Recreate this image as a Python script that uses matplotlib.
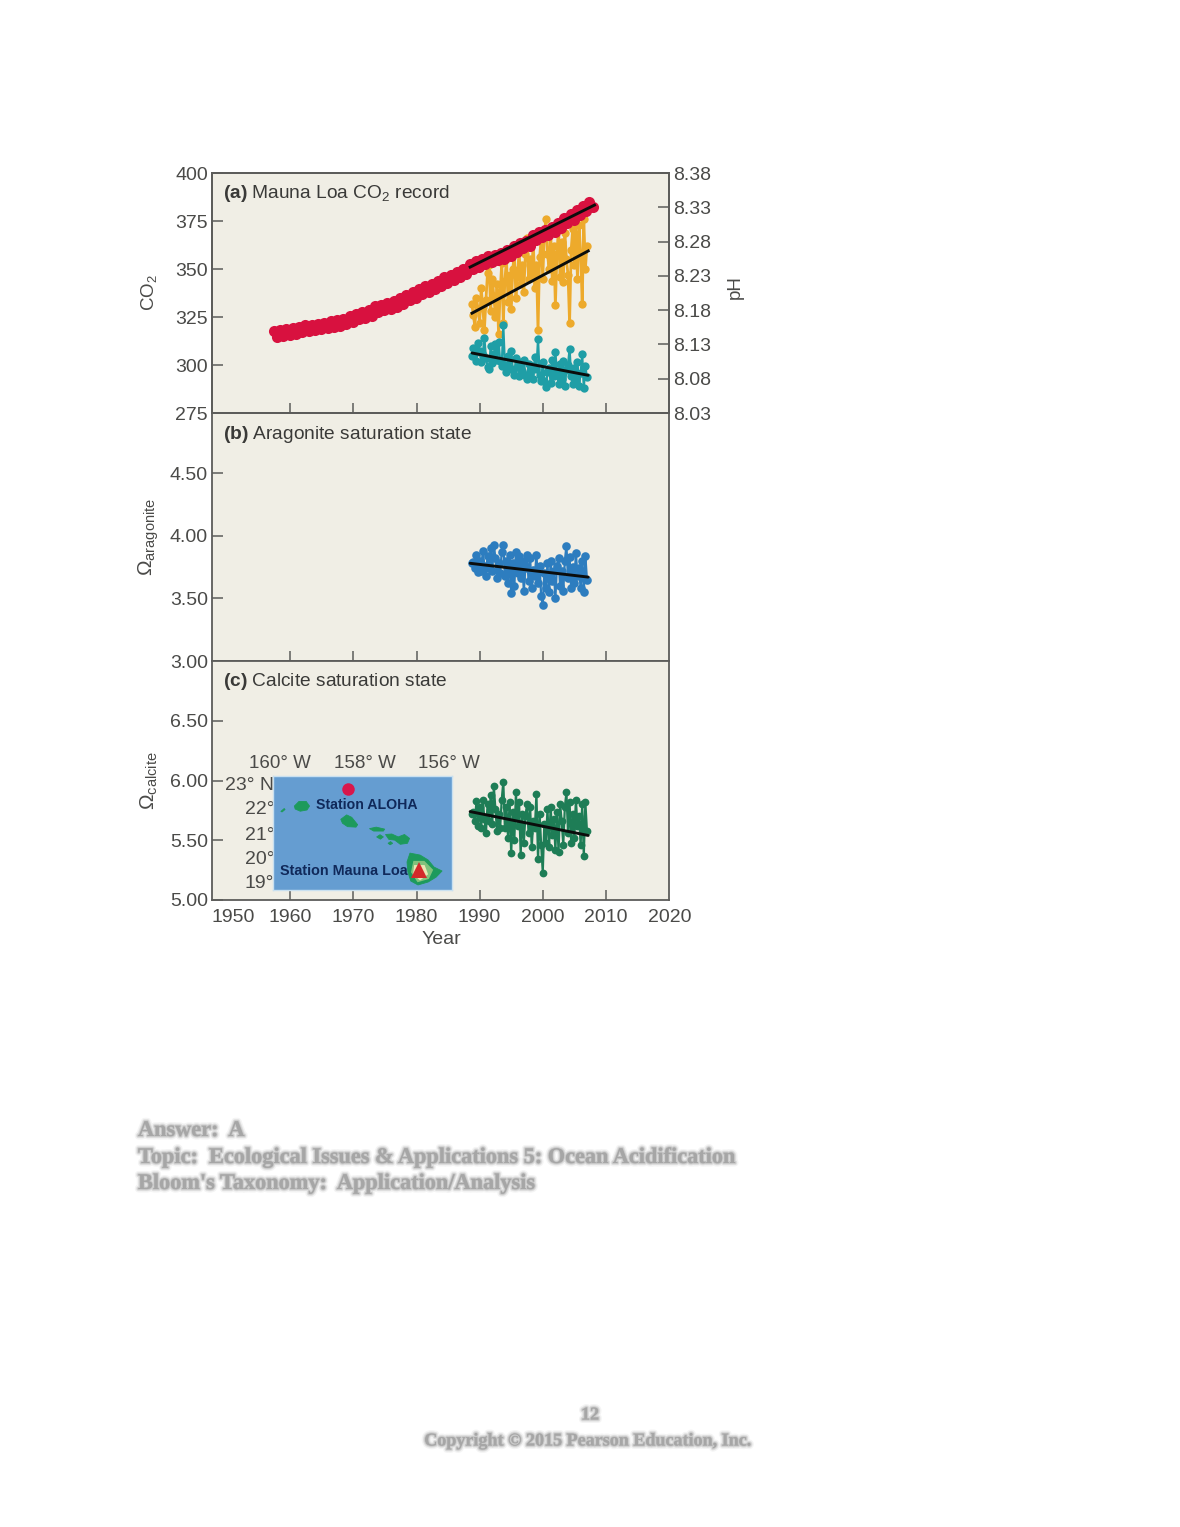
import numpy as np
import matplotlib
matplotlib.use('Agg')
import matplotlib.pyplot as plt
import matplotlib.patheffects as pe

W, H = 1180, 1527
TEXT = '#4a4a48'
EDGE = '#5c5c5a'
PANEL = '#f0eee5'

plt.rcParams['font.family'] = ['Liberation Sans', 'DejaVu Sans']
plt.rcParams['mathtext.fontset'] = 'custom'
plt.rcParams['mathtext.rm'] = 'Liberation Sans'
plt.rcParams['mathtext.bf'] = 'Liberation Sans:bold'
plt.rcParams['mathtext.it'] = 'Liberation Sans:italic'
plt.rcParams['mathtext.default'] = 'regular'

# Mauna Loa, two readings a year (spring high, autumn low) from 1957.4
co2_start = 1957.4
co2_values = [317.5, 314.6, 318.0, 315.0, 318.5, 315.6, 319.2, 316.3, 319.9, 317.0,
              320.6, 317.7, 321.0, 318.2, 321.6, 318.7, 322.0, 319.2, 322.9, 320.0,
              323.4, 320.5, 324.2, 321.3, 325.5, 322.5, 326.6, 323.8, 327.4, 324.6,
              328.5, 325.6, 330.6, 327.8, 331.2, 328.4, 332.2, 329.4, 333.1, 330.2,
              334.8, 331.9, 336.4, 333.6, 337.8, 335.0, 339.7, 336.8, 341.2, 338.2,
              342.4, 339.6, 344.0, 341.2, 345.6, 342.8, 347.0, 344.2, 348.4, 345.6,
              350.2, 347.4, 352.6, 349.8, 354.1, 351.2, 355.4, 352.6, 356.6, 353.8,
              357.4, 354.6, 358.1, 355.3, 359.8, 357.0, 361.8, 359.0, 363.6, 360.8,
              364.7, 361.9, 367.7, 364.9, 369.4, 366.6, 370.5, 367.7, 372.1, 369.3,
              374.2, 371.4, 376.8, 374.0, 378.5, 375.7, 380.8, 378.0, 382.9, 380.1,
              384.8, 382.2]

# Station ALOHA cruises
hot_years = [1988.75,
             1989.0, 1989.25, 1989.5, 1989.75, 1990.0, 1990.25, 1990.5, 1990.75,
             1991.0, 1991.25, 1991.5, 1991.75, 1992.0, 1992.25, 1992.5, 1992.75,
             1993.0, 1993.25, 1993.5, 1993.75, 1994.0, 1994.25, 1994.5, 1994.75,
             1995.0, 1995.25, 1995.5, 1995.75, 1996.0, 1996.25, 1996.5, 1996.75,
             1997.0, 1997.25, 1997.5, 1997.75, 1998.0, 1998.25, 1998.5, 1998.75,
             1999.0, 1999.25, 1999.5, 1999.75, 2000.0, 2000.25, 2000.5, 2000.75,
             2001.0, 2001.25, 2001.5, 2001.75, 2002.0, 2002.25, 2002.5, 2002.75,
             2003.0, 2003.25, 2003.5, 2003.75, 2004.0, 2004.25, 2004.5, 2004.75,
             2005.0, 2005.25, 2005.5, 2005.75, 2006.0, 2006.25, 2006.5, 2006.75,
             2007.0]
pco2_values = [332,
               326, 320, 335, 329, 322, 340, 330, 318,
               334, 348, 352, 328, 345, 336, 325, 342,
               316, 338, 353, 322, 344, 355, 333, 347,
               329, 350, 358, 335, 346, 360, 342, 352,
               338, 358, 366, 345, 355, 348, 364, 340,
               352, 318, 356, 366, 345, 368, 376, 358,
               350, 370, 344, 362, 331, 358, 372, 346,
               364, 343, 369, 355, 347, 322, 360, 371,
               352, 368, 345, 373, 358, 332, 376, 350,
               362]
ph_values = [8.113,
             8.125, 8.118, 8.106, 8.132, 8.121, 8.104, 8.115, 8.140,
             8.110, 8.097, 8.094, 8.128, 8.103, 8.116, 8.130, 8.108,
             8.134, 8.106, 8.098, 8.158, 8.100, 8.090, 8.113, 8.095,
             8.120, 8.093, 8.086, 8.110, 8.098, 8.084, 8.105, 8.091,
             8.108, 8.085, 8.079, 8.102, 8.088, 8.098, 8.080, 8.112,
             8.094, 8.138, 8.086, 8.076, 8.104, 8.077, 8.068, 8.090,
             8.096, 8.074, 8.108, 8.084, 8.119, 8.089, 8.072, 8.101,
             8.080, 8.106, 8.070, 8.092, 8.100, 8.124, 8.084, 8.072,
             8.096, 8.076, 8.104, 8.070, 8.088, 8.116, 8.066, 8.098,
             8.082]
aragonite_values = [3.78,
                    3.79, 3.74, 3.85, 3.71, 3.80, 3.72, 3.88, 3.76,
                    3.68, 3.84, 3.74, 3.90, 3.72, 3.93, 3.82, 3.66,
                    3.78, 3.70, 3.87, 3.93, 3.68, 3.80, 3.62, 3.85,
                    3.54, 3.78, 3.60, 3.87, 3.70, 3.84, 3.66, 3.80,
                    3.56, 3.74, 3.85, 3.64, 3.82, 3.58, 3.73, 3.68,
                    3.85, 3.62, 3.76, 3.52, 3.45, 3.70, 3.58, 3.78,
                    3.55, 3.80, 3.64, 3.72, 3.50, 3.76, 3.82, 3.60,
                    3.72, 3.56, 3.80, 3.92, 3.66, 3.83, 3.58, 3.75,
                    3.62, 3.86, 3.68, 3.74, 3.58, 3.80, 3.55, 3.84,
                    3.65]
calcite_values = [5.72,
                  5.74, 5.66, 5.83, 5.62, 5.78, 5.60, 5.84, 5.68,
                  5.56, 5.80, 5.66, 5.88, 5.64, 5.95, 5.76, 5.58,
                  5.72, 5.60, 5.84, 5.99, 5.60, 5.78, 5.52, 5.82,
                  5.39, 5.74, 5.50, 5.90, 5.62, 5.82, 5.38, 5.72,
                  5.48, 5.70, 5.80, 5.56, 5.78, 5.44, 5.66, 5.60,
                  5.89, 5.34, 5.72, 5.46, 5.23, 5.64, 5.48, 5.76,
                  5.44, 5.78, 5.54, 5.68, 5.42, 5.74, 5.40, 5.80,
                  5.66, 5.46, 5.78, 5.90, 5.56, 5.82, 5.48, 5.72,
                  5.52, 5.84, 5.62, 5.70, 5.46, 5.80, 5.37, 5.82,
                  5.58]

# trend lines, (start, end)
co2_trend_x, co2_trend_y = [1988.5, 2008.2], [351, 383.3]
pco2_trend_x, pco2_trend_y = [1988.8, 2007.2], [327, 359.4]
ph_trend_x, ph_trend_y = [1988.8, 2007.2], [8.1175, 8.085]
arag_trend_x, arag_trend_y = [1988.5, 2007.2], [3.78, 3.67]
calc_trend_x, calc_trend_y = [1988.5, 2007.2], [5.74, 5.54]

year_ticks = [1960, 1970, 1980, 1990, 2000, 2010]
year_labels = [1950, 1960, 1970, 1980, 1990, 2000, 2010, 2020]
co2_ticks = [275, 300, 325, 350, 375, 400]
ph_ticks = [8.03, 8.08, 8.13, 8.18, 8.23, 8.28, 8.33, 8.38]
arag_ticks = [3.0, 3.5, 4.0, 4.5]
calc_ticks = [5.0, 5.5, 6.0, 6.5]

# map outlines, lon / lat
kauai = ([-159.66, -159.55, -159.38, -159.30, -159.36, -159.52, -159.64],
         [22.14, 22.33, 22.33, 22.14, 21.98, 21.93, 22.02])
niihau = ([-159.98, -159.90, -159.88, -159.95], [21.92, 22.04, 22.0, 21.9])
oahu = ([-158.56, -158.42, -158.30, -158.16, -158.20, -158.40, -158.52],
        [21.60, 21.78, 21.68, 21.38, 21.28, 21.30, 21.44])
molokai = ([-157.88, -157.72, -157.52, -157.55, -157.78], [21.22, 21.28, 21.20, 21.12, 21.12])
lanai = ([-157.71, -157.63, -157.55, -157.62], [20.88, 20.97, 20.88, 20.79])
maui = ([-157.50, -157.35, -157.20, -157.05, -156.93, -156.98, -157.15, -157.28, -157.42],
        [20.98, 21.00, 20.88, 20.98, 20.82, 20.62, 20.58, 20.75, 20.78])
kahoolawe = ([-157.44, -157.38, -157.33, -157.39], [20.62, 20.69, 20.62, 20.56])
hawaii = ([-156.92, -156.68, -156.49, -156.35, -156.16, -156.30, -156.49, -156.73, -156.90, -156.97, -156.99],
          [20.22, 20.14, 19.94, 19.65, 19.49, 19.24, 19.04, 18.92, 19.08, 19.45, 19.86])
hawaii_mid = ([-156.82, -156.59, -156.40, -156.49, -156.73, -156.87],
              [19.86, 19.86, 19.53, 19.20, 19.08, 19.45])
hawaii_core = ([-156.80, -156.59, -156.52, -156.68, -156.82], [19.69, 19.69, 19.37, 19.16, 19.37])
aloha_pos = (-158.4, 22.85)
mauna_loa_pos = (-156.7, 19.55)


def px_axes(left, top, right, bottom, **kw):
    return fig.add_axes([left / W, 1 - bottom / H, (right - left) / W, (bottom - top) / H], **kw)


def px_text(xp, yp, s, **kw):
    kw.setdefault('ha', 'center')
    kw.setdefault('va', 'center')
    kw.setdefault('color', TEXT)
    return fig.text(xp / W, 1 - yp / H, s, **kw)


def style(ax, ylim, yticks, fmt):
    ax.set_facecolor(PANEL)
    ax.set_xlim(1947.6, 2020)
    ax.set_ylim(*ylim)
    ax.set_xticks(year_ticks)
    ax.set_yticks(yticks)
    ax.set_yticklabels([fmt % t for t in yticks])
    ax.tick_params(axis='y', direction='in', length=8, width=1.1, color=EDGE, labelcolor=TEXT,
                   labelsize=14, pad=3)
    ax.tick_params(axis='x', direction='in', length=7, width=1.1, color=EDGE, labelbottom=False)
    for s in ax.spines.values():
        s.set_color(EDGE)
        s.set_linewidth(1.3)


def series(ax, x, y, color, lw=1.6, ms=5.6):
    ax.plot(x, y, '-', color=color, lw=lw, marker='o', ms=ms, mec=color, mew=0, clip_on=False)


def trend(ax, x, y):
    ax.plot(x, y, color='#0b0d0c', lw=2.1, solid_capstyle='round', zorder=5)


fig = plt.figure(figsize=(W / 100, H / 100), dpi=100, facecolor='white')

ax_a = px_axes(212, 173, 669, 413)
ax_b = px_axes(212, 413, 669, 661)
ax_c = px_axes(212, 661, 669, 900)

style(ax_a, (275, 400), co2_ticks, '%d')
style(ax_b, (3.0, 4.98), arag_ticks, '%.2f')
style(ax_c, (5.0, 7.0), calc_ticks, '%.2f')

# panel a
co2_years = co2_start + 0.5 * np.arange(len(co2_values))
series(ax_a, hot_years, pco2_values, '#edaa2c', lw=2.0, ms=6)
ax_ph = ax_a.twinx()
ax_ph.set_ylim(8.03, 8.38)
ax_ph.set_yticks(ph_ticks)
ax_ph.set_yticklabels(['%.2f' % t for t in ph_ticks])
ax_ph.tick_params(axis='y', direction='in', length=8, width=1.1, color=EDGE, labelcolor=TEXT,
                  labelsize=14, pad=3)
for s in ax_ph.spines.values():
    s.set_color(EDGE)
    s.set_linewidth(1.3)
series(ax_ph, hot_years, ph_values, '#1f9ea6', lw=1.6, ms=6)
ax_ph.plot(co2_years, co2_values, '-', color='#d8113f', lw=2, marker='o', ms=8, mew=0, zorder=3,
           transform=ax_a.transData)
ax_ph.plot(co2_trend_x, co2_trend_y, color='#0b0d0c', lw=2.1, zorder=5, transform=ax_a.transData)
ax_ph.plot(pco2_trend_x, pco2_trend_y, color='#0b0d0c', lw=2.1, zorder=5, transform=ax_a.transData)
trend(ax_ph, ph_trend_x, ph_trend_y)

px_text(149, 293, 'CO$_2$', fontsize=13.5, rotation=90)
px_text(735, 287, 'pH', fontsize=13.5, rotation=90)

# panel b
series(ax_b, hot_years, aragonite_values, '#2d7dbf', ms=6.2)
trend(ax_b, arag_trend_x, arag_trend_y)
px_text(149, 537, r'$\Omega_{aragonite}$', fontsize=15, rotation=90)

# panel c
series(ax_c, hot_years, calcite_values, '#1e7d56', ms=5.6)
trend(ax_c, calc_trend_x, calc_trend_y)
px_text(149, 781, r'$\Omega_{calcite}$', fontsize=15, rotation=90)
px_text(441, 940, 'Year', fontsize=14)

# year labels sit under the axis; the two outer ones carry no tick
year_label_x = {1950: 233, 2020: 670}
for yr in year_labels:
    px_text(year_label_x.get(yr, 290 + (yr - 1960) * 6.31), 917, str(yr), fontsize=14)

titles = [(194, r'$\bf{(a)}$ Mauna Loa CO$_2$ record'),
          (434, r'$\bf{(b)}$ Aragonite saturation state'),
          (682, r'$\bf{(c)}$ Calcite saturation state')]
for yp, t in titles:
    px_text(223, yp, t, ha='left', fontsize=13.8, color='#3a3a38', zorder=10)

# inset map
for lab, xp in [('160° W', 280), ('158° W', 365), ('156° W', 449)]:
    px_text(xp, 763, lab, fontsize=13.5, zorder=10)
for lab, yp in [('23° N', 785), ('22°', 810), ('21°', 835), ('20°', 859), ('19°', 883)]:
    px_text(274, yp, lab, ha='right', fontsize=14, zorder=10)

ax_map = px_axes(273, 776, 452, 890, zorder=12)
ax_map.set_xlim(-160 + (273 - 280) / 42.2, -160 + (452 - 280) / 42.2)
ax_map.set_ylim(23 - (890 - 785) / 24.5, 23 - (776 - 785) / 24.5)
ax_map.set_facecolor('#659dd1')
ax_map.set_xticks([])
ax_map.set_yticks([])
for s in ax_map.spines.values():
    s.set_color('#c9e0f0')
    s.set_linewidth(1)
for isl in [kauai, niihau, oahu, molokai, lanai, maui, kahoolawe, hawaii]:
    ax_map.fill(isl[0], isl[1], color='#1d9a5c', lw=0.6)
ax_map.fill(hawaii_mid[0], hawaii_mid[1], color='#82c27c', lw=1.5)
ax_map.fill(hawaii_core[0], hawaii_core[1], color='#ece6b4', lw=1.5)
ax_map.plot(*aloha_pos, 'o', color='#d8174b', ms=9, mew=0)
ax_map.plot(*mauna_loa_pos, '^', color='#d42a2a', ms=11, mew=0)
ax_map.text(-160 + (316 - 280) / 42.2, 23 - (805 - 785) / 24.5, 'Station ALOHA', fontsize=10.2,
            fontweight='bold', color='#10295a', va='center')
ax_map.text(-160 + (280 - 280) / 42.2, 23 - (871 - 785) / 24.5, 'Station Mauna Loa', fontsize=10.4,
            fontweight='bold', color='#10295a', va='center')

# blurred page text underneath
blur = [pe.Stroke(linewidth=5, foreground='#c4c4c4', alpha=0.18),
        pe.Stroke(linewidth=3, foreground='#b0b0b0', alpha=0.3),
        pe.Stroke(linewidth=1.5, foreground='#a8a8a8', alpha=0.4),
        pe.Normal()]
page = [(138, 1131, 'left', 'Answer:  A'),
        (138, 1158, 'left', 'Topic:  Ecological Issues & Applications 5: Ocean Acidification'),
        (138, 1184, 'left', "Bloom's Taxonomy:  Application/Analysis"),
        (590, 1415, 'center', '12'),
        (587, 1441, 'center', 'Copyright © 2015 Pearson Education, Inc.')]
for xp, yp, ha, t in page:
    size = 13 if yp > 1400 else 16.05
    px_text(xp, yp, t, ha=ha, fontsize=size, family=['Liberation Serif'], fontweight='bold',
            color='#a6a6a6', path_effects=blur)

fig.savefig('out.png', dpi=100, facecolor='white')
